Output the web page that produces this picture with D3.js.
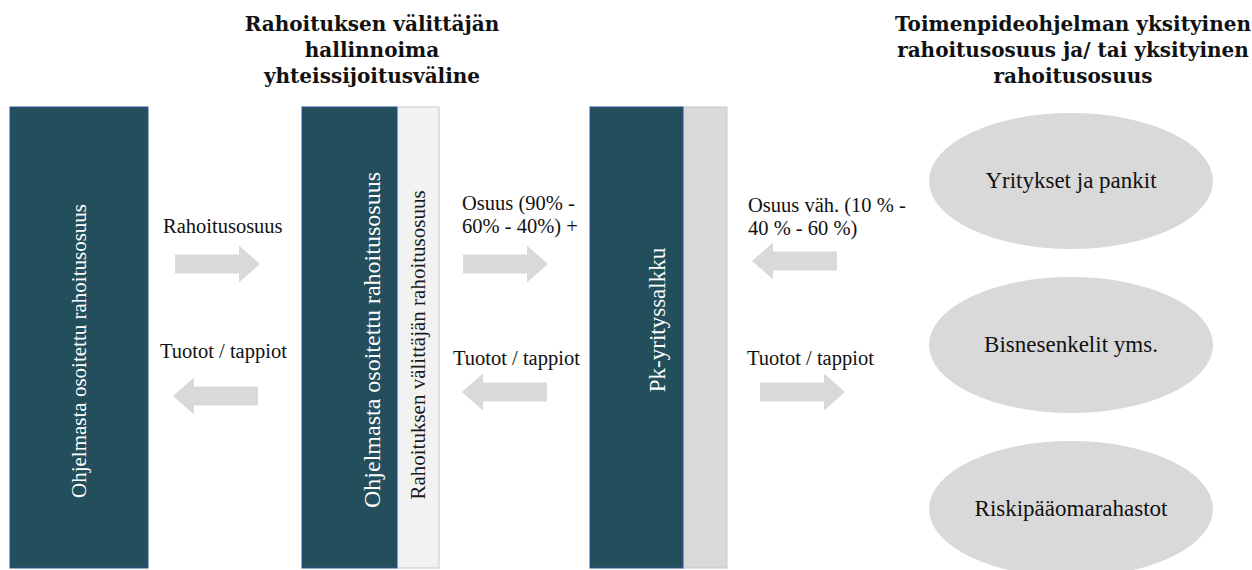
<!DOCTYPE html>
<html>
<head>
<meta charset="utf-8">
<script src="https://cdn.jsdelivr.net/npm/d3@7"></script>
<style>
  body { margin: 0; background: #fff; }
  text { font-family: Georgia, 'Liberation Serif', serif; }
  .heading { font-family: 'DejaVu Serif', Georgia, serif; }
</style>
</head>
<body>
<svg id="chart"></svg>
<script>
// diagram content
const columns = ['rahasto', 'valittaja', 'salkku', 'yksityinen']
const panelLabels = ['Ohjelmasta osoitettu rahoitusosuus', 'Ohjelmasta osoitettu rahoitusosuus', 'Pk-yrityssalkku']
const stripLabels = [null, 'Rahoituksen välittäjän rahoitusosuus', '']
const headings = [
  { col: 'valittaja', lines: ['Rahoituksen välittäjän', 'hallinnoima', 'yhteissijoitusväline'] },
  { col: 'yksityinen', lines: ['Toimenpideohjelman yksityinen', 'rahoitusosuus ja/ tai yksityinen', 'rahoitusosuus'] }
]
const flowGaps = ['rahasto-valittaja', 'valittaja-salkku', 'salkku-yksityinen']
const flowDirections = [['right', 'left'], ['right', 'left'], ['left', 'right']]
const flowLabels = [
  [['Rahoitusosuus'], ['Tuotot / tappiot']],
  [['Osuus (90% -', '60% - 40%) +'], ['Tuotot / tappiot']],
  [['Osuus väh. (10 % -', '40 % -  60 %)'], ['Tuotot / tappiot']]
]
const investors = ['Yritykset ja pankit', 'Bisnesenkelit yms.', 'Riskipääomarahastot']

const W = 1252, H = 570
const svg = d3.select('#chart').attr('width', W).attr('height', H)

// layout
const panelX = d3.scaleOrdinal().domain(columns).range([10, 302, 590, 929])
const panelW = d3.scaleOrdinal().domain(columns).range([138, 95, 93, 284])
const stripW = [0, 42, 44]
const panelFont = [21, 24, 23]
const panelTextX = [79, 372, 658]
const panelTextY = [351, 340, 320]
const headX = d3.scaleOrdinal().domain(columns).range([79, 372, 660, 1073])
const y = d3.scaleLinear().domain([0, 1]).range([107, 568])
const investorY = d3.scalePoint().domain(investors).range([181, 509])

// arrow placement per gap: [top row, bottom row]
const arrowX = [[175, 173], [463, 462], [752, 760]]
const arrowY = [[264, 396], [264, 392], [261, 392]]
const labelX = [[163, 160], [462, 453], [748, 747]]
const labelY = [[233, 358], [210, 365], [212, 365]]

const dark = '#234e5c'

// column panels
panelLabels.forEach((label, i) => {
  const c = columns[i]
  const x0 = panelX(c), w = panelW(c)
  const g = svg.append('g')
  if (stripLabels[i] !== null) {
    g.append('rect')
      .attr('x', x0 + w).attr('y', y(0))
      .attr('width', stripW[i]).attr('height', y(1) - y(0))
      .attr('fill', i === 1 ? '#f2f2f2' : '#d9d9d9')
      .attr('stroke', '#c8c8c8').attr('stroke-width', 1)
    if (stripLabels[i]) {
      g.append('text')
        .attr('transform', `translate(${x0 + w + stripW[i] / 2 + 7},345) rotate(-90)`)
        .attr('text-anchor', 'middle')
        .attr('font-size', 21)
        .attr('fill', '#1a1a1a')
        .text(stripLabels[i])
    }
  }
  g.append('rect')
    .attr('x', x0).attr('y', y(0))
    .attr('width', w).attr('height', y(1) - y(0))
    .attr('fill', dark)
    .attr('stroke', '#2f5597').attr('stroke-width', 1)
  g.append('text')
    .attr('transform', `translate(${panelTextX[i] + panelFont[i] * 0.32},${panelTextY[i]}) rotate(-90)`)
    .attr('text-anchor', 'middle')
    .attr('font-size', panelFont[i])
    .attr('fill', '#fff')
    .text(label)
})

// headings
headings.forEach(h => {
  svg.append('text')
    .attr('class', 'heading')
    .attr('x', headX(h.col))
    .attr('y', 31)
    .attr('text-anchor', 'middle')
    .attr('font-size', 20)
    .attr('font-weight', 'bold')
    .attr('fill', '#111')
    .selectAll('tspan')
    .data(h.lines)
    .join('tspan')
    .attr('x', headX(h.col))
    .attr('dy', (d, i) => i === 0 ? 0 : 26)
    .text(d => d)
})

// arrows
const arrowLen = 85, bodyH = 19, headH = 37, headL = 21
function arrowPath(dir) {
  // drawn pointing right, from 0 to arrowLen, centred on 0
  const p = [
    [0, -bodyH / 2], [arrowLen - headL, -bodyH / 2], [arrowLen - headL, -headH / 2],
    [arrowLen, 0], [arrowLen - headL, headH / 2], [arrowLen - headL, bodyH / 2], [0, bodyH / 2]
  ]
  const pts = dir === 'right' ? p : p.map(([a, b]) => [arrowLen - a, b])
  return d3.line()(pts) + 'Z'
}

flowGaps.forEach((gap, i) => {
  flowDirections[i].forEach((dir, j) => {
    svg.append('path')
      .attr('transform', `translate(${arrowX[i][j]},${arrowY[i][j]})`)
      .attr('d', arrowPath(dir))
      .attr('fill', '#d9d9d9')
    svg.append('text')
      .attr('y', labelY[i][j])
      .attr('font-size', 20.5)
      .attr('fill', '#111')
      .selectAll('tspan')
      .data(flowLabels[i][j])
      .join('tspan')
      .attr('x', labelX[i][j])
      .attr('dy', (d, k) => k === 0 ? 0 : 23)
      .text(d => d)
  })
})

// investor ellipses
const ecx = panelX('yksityinen') + panelW('yksityinen') / 2
investors.forEach(name => {
  const cy = investorY(name)
  const g = svg.append('g')
  g.append('ellipse')
    .attr('cx', ecx)
    .attr('cy', cy)
    .attr('rx', panelW('yksityinen') / 2)
    .attr('ry', 68)
    .attr('fill', '#d9d9d9')
  g.append('text')
    .attr('x', ecx)
    .attr('y', cy + 7)
    .attr('text-anchor', 'middle')
    .attr('font-size', 23)
    .attr('fill', '#111')
    .text(name)
})
</script>
</body>
</html>
